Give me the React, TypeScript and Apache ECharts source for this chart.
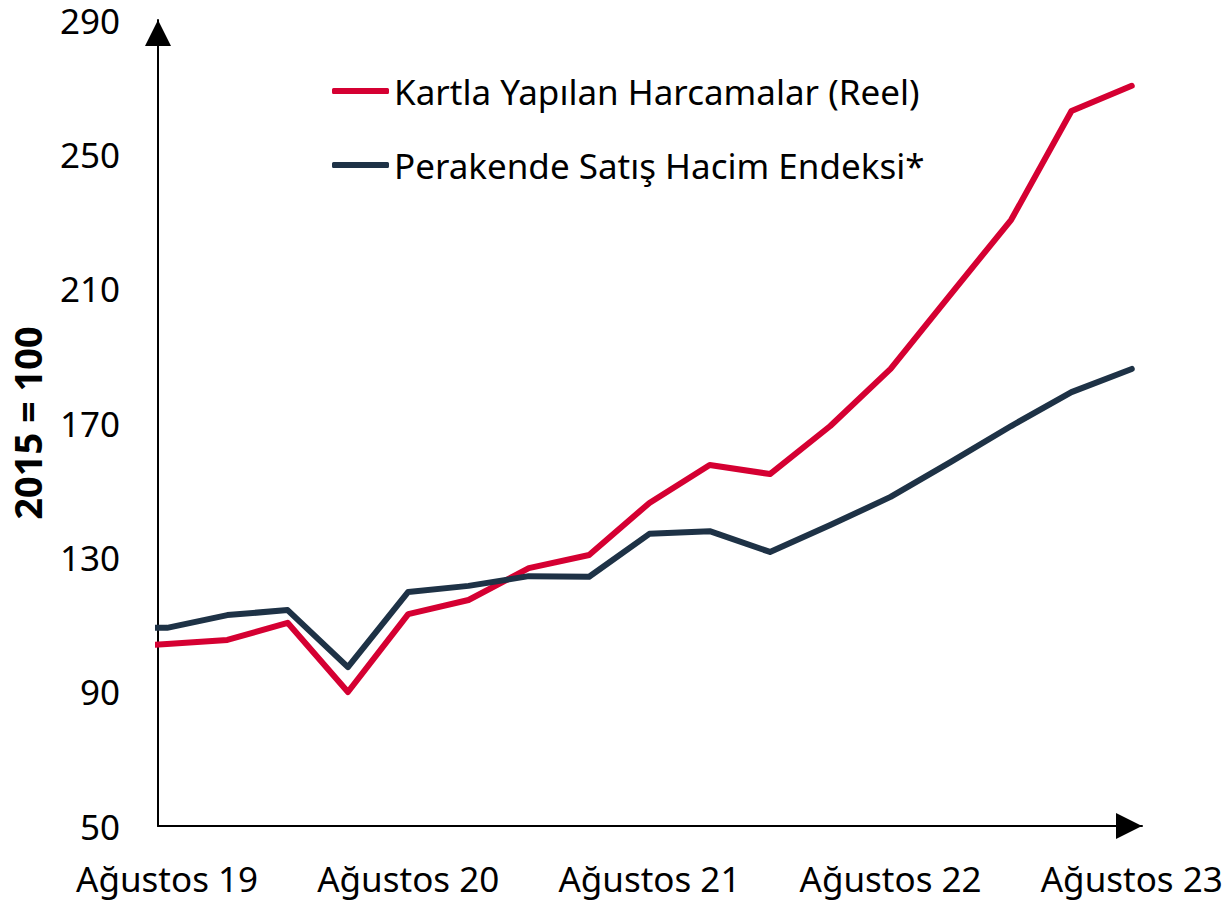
import React, { useEffect, useRef } from "react";
import * as echarts from "echarts";

// Quarterly periods; the first one (Mayıs 19) lies just left of the visible axis range and is clipped.
const periods = [
  "Mayıs 19",
  "Ağustos 19", "Kasım 19", "Şubat 20", "Mayıs 20",
  "Ağustos 20", "Kasım 20", "Şubat 21", "Mayıs 21",
  "Ağustos 21", "Kasım 21", "Şubat 22", "Mayıs 22",
  "Ağustos 22", "Kasım 22", "Şubat 23", "Mayıs 23",
  "Ağustos 23",
];
const cardSpending = [
  103.0,
  104.2, 105.4, 110.5, 89.9, 113.1, 117.3, 126.8, 130.7,
  146.2, 157.5, 154.8, 169.1, 186.1, 208.4, 230.5, 262.9, 270.4,
];
const retailVolume = [
  109.0,
  109.0, 112.8, 114.3, 97.3, 119.7, 121.5, 124.4, 124.2,
  137.0, 137.8, 131.6, 139.6, 148.0, 158.4, 169.1, 179.2, 186.1,
];
const labelledPeriods = ["Ağustos 19", "Ağustos 20", "Ağustos 21", "Ağustos 22", "Ağustos 23"];
const seriesNames = ["Kartla Yapılan Harcamalar (Reel)", "Perakende Satış Hacim Endeksi*"];
const yTicks = [50, 90, 130, 170, 210, 250, 290];

const FONT = "'Noto Sans', 'Open Sans', sans-serif";
const RED = "#D50032";
const NAVY = "#1E3246";

export default function App() {
  const ref = useRef<HTMLDivElement>(null);
  useEffect(() => {
    if (!ref.current) return;
    const chart = echarts.init(ref.current, undefined, { renderer: "svg" });
    // x position: index relative to "Ağustos 19"
    const toPairs = (arr: number[]) => arr.map((v, i) => [i - 1, v]);
    const xOf = (name: string) => periods.indexOf(name) - 1;
    const labelPositions = labelledPeriods.map(xOf);
    const axisLine = {
      show: true,
      onZero: false,
      lineStyle: { color: "#000", width: 2 },
      symbol: ["none", "triangle"],
      symbolSize: [26, 26],
      symbolOffset: [0, -13],
    };
    chart.setOption({
      animation: false,
      textStyle: { fontFamily: FONT },
      grid: { left: 158, right: 86, top: 20, bottom: 80, containLabel: false },
      legend: {
        orient: "vertical",
        left: 327,
        top: 66,
        icon: "roundRect",
        itemWidth: 57,
        itemHeight: 6,
        itemGap: 34,
        textStyle: { fontSize: 35, lineHeight: 40, color: "#000", fontFamily: FONT },
        data: [
          { name: seriesNames[0], itemStyle: { color: RED } },
          { name: seriesNames[1], itemStyle: { color: NAVY } },
        ],
      },
      xAxis: {
        type: "value",
        min: -0.15,
        max: 16.17,
        splitLine: { show: false },
        axisTick: { show: false },
        axisLine,
        axisLabel: {
          customValues: labelPositions,
          fontSize: 35,
          color: "#000",
          fontFamily: FONT,
          margin: 35,
          formatter: (v: number) => {
            const i = Math.round(v) + 1;
            return periods[i] || "";
          },
        },
      },
      yAxis: {
        type: "value",
        min: yTicks[0],
        max: yTicks[yTicks.length - 1],
        interval: 40,
        name: "2015 = 100",
        nameLocation: "middle",
        nameRotate: 90,
        nameGap: 112,
        nameTextStyle: { fontSize: 38, fontWeight: "bold", color: "#000", fontFamily: FONT },
        splitLine: { show: false },
        axisTick: { show: false },
        axisLine,
        axisLabel: { fontSize: 35, lineHeight: 30, color: "#000", fontFamily: FONT, margin: 38 },
      },
      series: [
        {
          name: seriesNames[0],
          type: "line",
          data: toPairs(cardSpending),
          showSymbol: false,
          symbol: "none",
          clip: true,
          lineStyle: { color: RED, width: 6, cap: "round", join: "round" },
          itemStyle: { color: RED },
        },
        {
          name: seriesNames[1],
          type: "line",
          data: toPairs(retailVolume),
          showSymbol: false,
          symbol: "none",
          clip: true,
          lineStyle: { color: NAVY, width: 6, cap: "round", join: "round" },
          itemStyle: { color: NAVY },
        },
      ],
    });
    return () => chart.dispose();
  }, []);
  return (
    <div
      ref={ref}
      style={{ position: "absolute", left: 0, top: 0, width: 1228, height: 906, background: "#fff" }}
    />
  );
}
